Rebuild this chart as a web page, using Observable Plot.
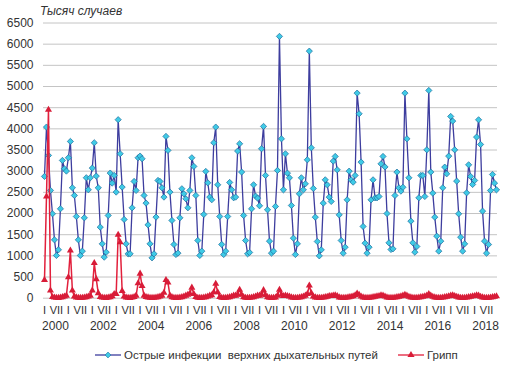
<!DOCTYPE html>
<html><head><meta charset="utf-8">
<script src="https://cdn.jsdelivr.net/npm/d3@7"></script>
<script src="https://cdn.jsdelivr.net/npm/@observablehq/plot@0.6"></script>
<style>
body{margin:0;background:#fff;font-family:"Liberation Sans",Arial,sans-serif;color:#333;}
#wrap{width:512px;height:370px;position:relative;overflow:hidden;}
#title{height:20px;box-sizing:border-box;padding:3px 0 0 40px;font-style:italic;font-size:12px;line-height:17px;color:#333;}
#legend{height:30px;display:flex;align-items:center;padding-left:95px;font-size:11.5px;color:#333;}
#legend .it{display:flex;align-items:center;}
#legend svg{display:block;margin-right:3px;}
</style></head>
<body><div id="wrap">
<div id="title">Тысяч случаев</div>
<div id="chart"></div>
<div id="legend"></div>
</div>
<script>
// Monthly data, January 2000 – December 2018 (thousand cases)
const ari = [
2876,4042,3372,2545,1994,1379,1009,1143,2112,3254,3057,3002,
3317,3703,2608,2427,1930,1379,1009,1111,1899,2845,2561,2845,
3073,3672,2884,2608,1678,1284,969,1087,1954,2955,2718,2900,
2506,4216,3412,2624,1860,1284,1048,1048,2135,2758,2545,3317,
3357,3294,2427,2246,1733,1284,953,1048,1915,2781,2758,2608,
2388,3822,3491,2506,1836,1269,1032,1064,1899,2585,2466,2348,
2135,2545,3317,3113,2427,1363,1009,1111,1978,2994,2726,2388,
2325,3672,4042,2679,1930,1269,1032,1111,1930,2734,2561,2372,
2388,3475,3648,2979,1954,1363,1048,1080,2112,2679,2411,2364,
2183,3530,4058,2900,2088,1347,1064,1111,2167,3018,6184,3765,
2560,3411,2954,2844,2190,1418,1032,1284,2466,2844,2560,2702,
3269,5836,3553,2592,1914,1339,1000,1142,2245,2796,2678,2387,
2285,3237,3348,3033,1969,1363,1063,1205,2324,3001,2796,2741,
2899,4844,4356,3214,1694,1300,1063,1205,2324,2796,2371,2371,
2402,3174,3348,3100,2000,1308,1150,1166,2426,2978,2607,2529,
2620,4844,3765,2844,1820,1308,1087,1221,2371,2899,2899,2402,
3505,4907,2978,2481,1914,1465,1111,1347,2607,3096,2938,3356,
4293,4183,3505,2765,1993,1441,1111,1284,2489,3151,2875,2686,
2781,3805,4214,3631,2056,1347,1063,1268,2544,2922,2718,2560
];
const flu = [
430,2400,4450,180,30,15,10,8,15,25,40,60,
496,1127,181,40,20,10,8,10,15,25,40,60,
180,830,450,120,30,15,10,8,15,25,45,100,
100,1500,1320,170,40,15,10,8,15,30,60,354,
580,290,60,30,20,10,8,10,15,25,40,60,
130,430,370,60,25,10,8,10,15,25,40,60,
80,110,250,100,30,12,8,10,15,25,40,60,
70,140,340,140,30,12,8,10,15,25,40,60,
60,90,200,80,25,10,8,10,15,25,40,60,
60,90,190,70,25,10,8,10,15,60,200,80,
50,60,50,40,20,10,8,10,15,25,40,60,
100,300,120,40,20,10,8,10,15,25,35,50,
50,60,70,50,20,10,8,10,15,25,35,45,
70,110,80,40,20,10,8,10,15,25,35,45,
50,70,60,40,20,10,8,10,15,25,35,45,
60,80,60,35,20,10,8,10,15,25,35,45,
60,100,60,35,20,10,8,10,15,25,35,45,
60,70,50,35,20,10,8,10,15,25,35,45,
50,70,60,35,20,10,8,10,15,25,35,45
];
const monthLabels = ["I", "VII"];
const yearLabels = ["2000","2002","2004","2006","2008","2010","2012","2014","2016","2018"];
const yTicks = [0,500,1000,1500,2000,2500,3000,3500,4000,4500,5000,5500,6000,6500];
const seriesNames = ["Острые инфекции  верхних дыхательных путей", "Грипп"];
const firstYear = 2000;

const ariRows = ari.map((v, i) => ({i, v}));
const fluRows = flu.map((v, i) => ({i, v}));
const nMonths = ari.length;
const tickIdx = d3.range(0, nMonths, 6);
const yearRows = yearLabels.map(l => ({label: l, mid: (+l - firstYear) * 12 + 5.5}));

const blueLine = "#3d3d9e", blueFill = "#3fcbe6", blueEdge = "#1f6c9c";
const redLine = "#e2203c", redFill = "#d81c38";

const chart = Plot.plot({
  width: 512, height: 320,
  marginTop: 2.5, marginBottom: 42.3, marginLeft: 43, marginRight: 15,
  style: {background: "transparent", overflow: "visible", fontFamily: "Liberation Sans, Arial, sans-serif", fontSize: "12px", color: "#333"},
  x: {type: "linear", domain: [-0.5, nMonths - 0.5]},
  y: {domain: [0, 6500]},
  marks: [
    Plot.ruleY(yTicks, {stroke: "#c4c4c4", strokeWidth: 1}),
    Plot.axisY({ticks: yTicks, tickFormat: d => String(d), tickSize: 0, tickPadding: 10, label: null, fontSize: 12}),
    Plot.axisX({ticks: tickIdx, tickFormat: i => monthLabels[(i / 6) % 2], tickSize: 0, tickPadding: 8, label: null, fontSize: 11}),
    Plot.text(yearRows, {x: "mid", text: "label", frameAnchor: "bottom", dy: 31.5, fontSize: 12}),
    Plot.line(ariRows, {x: "i", y: "v", stroke: blueLine, strokeWidth: 1.3}),
    Plot.dot(ariRows, {x: "i", y: "v", symbol: "diamond2", r: 2.8, fill: blueFill, stroke: blueEdge, strokeWidth: 0.7}),
    Plot.line(fluRows, {x: "i", y: "v", stroke: redLine, strokeWidth: 1.5}),
    Plot.dot(fluRows, {x: "i", y: "v", symbol: "triangle", r: 2.6, fill: redFill})
  ]
});
document.getElementById("chart").appendChild(chart);

// legend
const legend = d3.select("#legend");
const items = [
  {name: seriesNames[0], line: blueLine, sym: d3.symbolDiamond2, fill: blueFill, edge: blueEdge, gap: 20},
  {name: seriesNames[1], line: redLine, sym: d3.symbolTriangle, fill: redFill, edge: "none", gap: 0}
];
items.forEach(it => {
  const d = legend.append("div").attr("class", "it").style("margin-right", it.gap + "px");
  const s = d.append("svg").attr("width", 26).attr("height", 10);
  s.append("line").attr("x1", 0).attr("x2", 26).attr("y1", 5).attr("y2", 5).attr("stroke", it.line).attr("stroke-width", 1.3);
  s.append("path").attr("transform", "translate(13,5)").attr("d", d3.symbol(it.sym, 22)()).attr("fill", it.fill).attr("stroke", it.edge).attr("stroke-width", 0.6);
  d.append("span").style("white-space", "pre").text(it.name);
});
</script>
</body></html>
